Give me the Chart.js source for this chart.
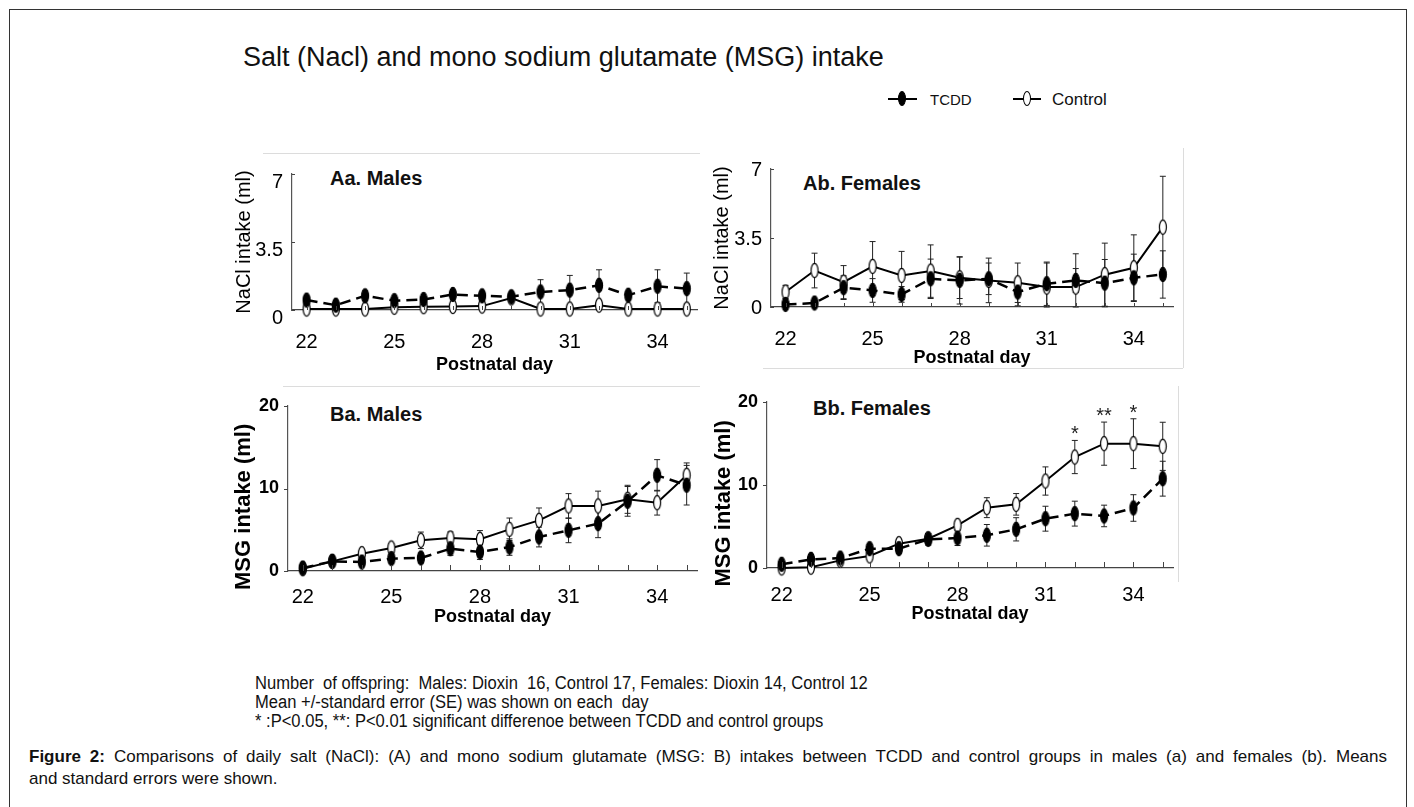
<!DOCTYPE html>
<html>
<head>
<meta charset="utf-8">
<script src="https://cdn.jsdelivr.net/npm/chart.js@4.4.0/dist/chart.umd.min.js"></script>
<style>
  html, body { margin: 0; padding: 0; background: #fff; }
  body { width: 1414px; height: 807px; position: relative; overflow: hidden; font-family: "Liberation Sans", Arial, sans-serif; color: #111; }
  .frame { position: absolute; left: 9px; top: 9px; width: 1398px; height: 830px; border: 1px solid #333; box-sizing: border-box; }
  .abs { position: absolute; white-space: pre; }
  .edge { position: absolute; background: #dcdcdc; }
  canvas { position: absolute; }
  .main-title { left: 243px; top: 44px; font-size: 27px; line-height: 27px; }
  .plabel { font-size: 20px; line-height: 20px; font-weight: bold; }
  .leg-line { position: absolute; height: 2px; background: #000; }
  .leg-dot { position: absolute; width: 6px; height: 13px; border: 1.3px solid #000; border-radius: 50%; }
  .notes { left: 255px; top: 674px; font-size: 18px; line-height: 19px; transform-origin: 0 0; }
  .caption { position: absolute; left: 29px; top: 746px; width: 1358px; font-size: 17px; line-height: 21.6px; }
  .caption .first { text-align: justify; text-align-last: justify; white-space: nowrap; }
</style>
</head>
<body>
<div class="frame"></div>
<div class="edge" style="left:263px; top:153px; width:437px; height:1px;"></div>
<div class="edge" style="left:763px; top:368px; width:420px; height:1px;"></div>
<div class="edge" style="left:1183px; top:148px; width:1px; height:220px;"></div>
<div class="edge" style="left:283px; top:386px; width:417px; height:1px;"></div>
<div class="edge" style="left:1178px; top:386px; width:1px; height:196px;"></div>

<div class="abs main-title">Salt (Nacl) and mono sodium glutamate (MSG) intake</div>

<div class="leg-line" style="left:888px; top:98px; width:29px;"></div>
<div class="leg-dot" style="left:898px; top:91px; background:#000;"></div>
<div class="abs" style="left:930px; top:92px; font-size:15px; line-height:15px;">TCDD</div>
<div class="leg-line" style="left:1013px; top:98px; width:28px; height:1.5px;"></div>
<div class="leg-dot" style="left:1023px; top:91px; background:#fff;"></div>
<div class="abs" style="left:1052px; top:91px; font-size:17px; line-height:17px;">Control</div>

<div class="abs plabel" style="left:330px; top:168px;">Aa. Males</div>
<div class="abs plabel" style="left:803px; top:173px;">Ab. Females</div>
<div class="abs plabel" style="left:330px; top:404px;">Ba. Males</div>
<div class="abs plabel" style="left:813px; top:398px;">Bb. Females</div>

<div class="abs notes" id="notes">Number  of offspring:  Males: Dioxin  16, Control 17, Females: Dioxin 14, Control 12
Mean +/-standard error (SE) was shown on each  day
* :P&lt;0.05, **: P&lt;0.01 significant differenoe between TCDD and control groups</div>

<div class="caption">
  <div class="first"><b>Figure 2:</b> Comparisons of daily salt (NaCl): (A) and mono sodium glutamate (MSG: B) intakes between TCDD and control groups in males (a) and females (b). Means</div>
  <div>and standard errors were shown.</div>
</div>

<script>
const days = [22, 23, 24, 25, 26, 27, 28, 29, 30, 31, 32, 33, 34, 35];
const xTickLabels = [22, 25, 28, 31, 34];
const naclTicks = [0, 3.5, 7];
const msgTicks = [0, 10, 20];

// Aa: NaCl, males
const aaTcdd   = [0.51, 0.25, 0.73, 0.48, 0.54, 0.80, 0.73, 0.68, 0.93, 1.02, 1.27, 0.76, 1.22, 1.10];
const aaTcddSe = [0.20, 0.15, 0.25, 0.15, 0.15, 0.20, 0.20, 0.15, 0.63, 0.76, 0.80, 0.20, 0.85, 0.80];
const aaCtrl   = [0.05, 0.05, 0.05, 0.14, 0.17, 0.18, 0.20, 0.62, 0.05, 0.05, 0.25, 0.05, 0.05, 0.05];
const aaCtrlSe = [0.05, 0.05, 0.05, 0.05, 0.05, 0.05, 0.05, 0.10, 0.05, 0.05, 0.10, 0.05, 0.05, 0.05];

// Ab: NaCl, females
const abTcdd   = [0.13, 0.20, 0.98, 0.84, 0.64, 1.43, 1.35, 1.43, 0.76, 1.18, 1.35, 1.21, 1.48, 1.65];
const abTcddSe = [0.10, 0.10, 0.60, 0.60, 0.40, 1.00, 1.20, 0.80, 0.70, 1.10, 0.60, 1.20, 1.20, 1.20];
const abCtrl   = [0.76, 1.85, 1.26, 2.06, 1.60, 1.82, 1.48, 1.35, 1.23, 1.01, 1.01, 1.64, 1.99, 4.05];
const abCtrlSe = [0.34, 0.88, 0.84, 1.26, 1.22, 1.33, 1.05, 1.13, 1.00, 1.22, 1.69, 1.60, 1.67, 2.58];

// Ba: MSG, males
const baTcdd   = [0.36, 1.17, 1.09, 1.50, 1.58, 2.70, 2.30, 2.90, 4.12, 4.93, 5.74, 8.44, 11.6, 10.4];
const baTcddSe = [0.30, 0.30, 0.40, 0.50, 0.60, 0.80, 0.90, 1.00, 1.20, 1.50, 1.70, 1.80, 1.90, 2.40];
const baCtrl   = [0.28, 1.17, 2.10, 2.79, 3.72, 4.00, 3.84, 5.05, 6.14, 7.88, 7.88, 8.69, 8.28, 11.6];
const baCtrlSe = [0.30, 0.30, 0.40, 0.50, 1.00, 0.73, 1.06, 1.37, 1.50, 1.50, 1.80, 1.70, 1.50, 1.50];

// Bb: MSG, females
const bbTcdd   = [0.45, 1.04, 1.20, 2.33, 2.33, 3.45, 3.61, 3.94, 4.66, 5.94, 6.55, 6.27, 7.23, 10.76];
const bbTcddSe = [0.30, 0.30, 0.40, 0.50, 0.50, 0.70, 0.90, 1.30, 1.40, 1.50, 1.50, 1.30, 1.60, 2.10];
const bbCtrl   = [0.00, 0.10, 0.92, 1.45, 2.93, 3.53, 5.14, 7.27, 7.67, 10.48, 13.37, 14.98, 14.98, 14.66];
const bbCtrlSe = [0.20, 0.20, 0.30, 0.40, 0.50, 0.60, 0.50, 1.20, 1.30, 1.70, 2.00, 2.60, 3.00, 2.90];
const bbStars  = ['', '', '', '', '', '', '', '', '', '', '*', '**', '*', ''];

Chart.defaults.font.family = "'Liberation Sans', Arial, sans-serif";
Chart.defaults.color = '#000';

function ellipseMarker(fill) {
  const c = document.createElement('canvas');
  c.width = 10;
  c.height = 17;
  const ctx = c.getContext('2d');
  ctx.beginPath();
  ctx.ellipse(5, 8.5, 3.5, 7.2, 0, 0, Math.PI * 2);
  ctx.fillStyle = fill;
  ctx.fill();
  ctx.lineWidth = 1.2;
  ctx.strokeStyle = '#000';
  ctx.stroke();
  return c;
}
const filledDot = ellipseMarker('#000');
const openDot = ellipseMarker('#fff');

const errorBars = {
  id: 'errorBars',
  beforeDatasetsDraw(chart) {
    const {ctx} = chart;
    const y = chart.scales.y;
    ctx.save();
    ctx.strokeStyle = '#222';
    ctx.lineWidth = 1;
    chart.data.datasets.forEach((ds, i) => {
      chart.getDatasetMeta(i).data.forEach((pt, j) => {
        const v = ds.data[j].y;
        const top = y.getPixelForValue(v + ds.se[j]);
        const bot = y.getPixelForValue(Math.max(0, v - ds.se[j]));
        ctx.beginPath();
        ctx.moveTo(pt.x, top); ctx.lineTo(pt.x, bot);
        ctx.moveTo(pt.x - 3, top); ctx.lineTo(pt.x + 3, top);
        ctx.moveTo(pt.x - 3, bot); ctx.lineTo(pt.x + 3, bot);
        ctx.stroke();
      });
    });
    ctx.restore();
  }
};

const tickMarks = {
  id: 'tickMarks',
  afterDraw(chart, args, opts) {
    const {ctx, chartArea: a, scales: {x, y}} = chart;
    ctx.save();
    ctx.strokeStyle = '#444';
    ctx.lineWidth = 1;
    ctx.beginPath();
    days.forEach(d => {
      const px = Math.round(x.getPixelForValue(d)) + 0.5;
      ctx.moveTo(px, a.bottom);
      ctx.lineTo(px, a.bottom - opts.xLen);
    });
    y.ticks.forEach(t => {
      const py = Math.round(y.getPixelForValue(t.value)) + 0.5;
      ctx.moveTo(a.left, py);
      ctx.lineTo(a.left + opts.yLen, py);
    });
    ctx.stroke();
    ctx.restore();
  }
};

const sigStars = {
  id: 'sigStars',
  afterDatasetsDraw(chart, args, opts) {
    if (!opts.marks) return;
    const {ctx} = chart;
    const ds = chart.data.datasets[1];
    const meta = chart.getDatasetMeta(1);
    ctx.save();
    ctx.font = "20px 'Liberation Sans', Arial, sans-serif";
    ctx.fillStyle = '#222';
    ctx.textAlign = 'center';
    ctx.textBaseline = 'alphabetic';
    opts.marks.forEach((m, j) => {
      if (!m) return;
      const top = chart.scales.y.getPixelForValue(ds.data[j].y + ds.se[j]);
      ctx.fillText(m, meta.data[j].x, top);
    });
    ctx.restore();
  }
};

// trailing no-break spaces push the bold MSG title a little down the axis, as in the original
const msgTitle = 'MSG intake (ml)' + '\u00a0'.repeat(6);

const panels = [
  {tcdd: aaTcdd, tcddSe: aaTcddSe, ctrl: aaCtrl, ctrlSe: aaCtrlSe, yTicks: naclTicks, yTitle: 'NaCl intake (ml)', bold: false,
   box: {l: 292, t: 173, r: 697, b: 310}, yw: 60, xh: 66, tickPad: 20, labelOffset: 8, yLen: 3, xLen: 4},
  {tcdd: abTcdd, tcddSe: abTcddSe, ctrl: abCtrl, ctrlSe: abCtrlSe, yTicks: naclTicks, yTitle: 'NaCl intake (ml)', bold: false,
   box: {l: 771, t: 168, r: 1173, b: 307}, yw: 61, xh: 62, tickPad: 20, labelOffset: 1, yLen: 3, xLen: 4},
  {tcdd: baTcdd, tcddSe: baTcddSe, ctrl: baCtrl, ctrlSe: baCtrlSe, yTicks: msgTicks, yTitle: msgTitle, bold: true,
   box: {l: 288, t: 406, r: 697, b: 571}, yw: 57, xh: 57, tickPad: 14, labelOffset: 0, yLen: -4, xLen: 6},
  {tcdd: bbTcdd, tcddSe: bbTcddSe, ctrl: bbCtrl, ctrlSe: bbCtrlSe, yTicks: msgTicks, yTitle: msgTitle, bold: true,
   box: {l: 767, t: 402, r: 1173, b: 568}, yw: 56, xh: 57, tickPad: 15, labelOffset: 0, yLen: -4, xLen: 6, stars: bbStars}
];

const padTop = 20, padRight = 12;

function toPoints(values) {
  return days.map((d, i) => ({x: d, y: values[i]}));
}

panels.forEach(p => {
  const cv = document.createElement('canvas');
  cv.width = p.yw + (p.box.r - p.box.l) + padRight;
  cv.height = padTop + (p.box.b - p.box.t) + p.xh;
  cv.style.left = (p.box.l - p.yw) + 'px';
  cv.style.top = (p.box.t - padTop) + 'px';
  document.body.appendChild(cv);

  new Chart(cv.getContext('2d'), {
    type: 'line',
    data: {
      datasets: [{
        label: 'TCDD',
        data: toPoints(p.tcdd),
        se: p.tcddSe,
        borderColor: '#000',
        borderWidth: 2.5,
        borderDash: [11, 6],
        pointStyle: filledDot,
        pointRadius: 4,
        clip: false
      }, {
        label: 'Control',
        data: toPoints(p.ctrl),
        se: p.ctrlSe,
        borderColor: '#000',
        borderWidth: 2,
        pointStyle: openDot,
        pointRadius: 4,
        clip: false
      }]
    },
    plugins: [errorBars, tickMarks, sigStars],
    options: {
      responsive: false,
      animation: false,
      events: [],
      layout: {padding: {top: padTop, right: padRight, left: 0, bottom: 0}, autoPadding: false},
      plugins: {
        legend: {display: false},
        tooltip: {enabled: false},
        tickMarks: {xLen: p.xLen, yLen: p.yLen},
        sigStars: {marks: p.stars}
      },
      scales: {
        x: {
          type: 'linear',
          min: 21.5,
          max: 35.35,
          afterBuildTicks: s => { s.ticks = days.map(v => ({value: v})); },
          afterFit: s => { s.height = p.xh; },
          grid: {display: false, drawTicks: false},
          border: {display: true, color: '#444', width: 1.3},
          ticks: {
            padding: p.tickPad,
            autoSkip: false,
            maxRotation: 0,
            font: {size: 20},
            callback: v => xTickLabels.includes(v) ? String(v) : ''
          },
          title: {display: true, text: 'Postnatal day', font: {size: 18, weight: 'bold'}, padding: 0}
        },
        y: {
          type: 'linear',
          min: 0,
          max: p.yTicks[p.yTicks.length - 1],
          afterBuildTicks: s => { s.ticks = p.yTicks.map(v => ({value: v})); },
          afterFit: s => { s.width = p.yw; },
          grid: {display: false, drawTicks: false},
          border: {display: true, color: '#555', width: 1.2},
          ticks: {
            padding: 9,
            labelOffset: p.labelOffset,
            font: {size: p.bold ? 18 : 20, weight: p.bold ? 'bold' : 'normal'}
          },
          title: {
            display: true,
            text: p.yTitle,
            font: {size: p.bold ? 22 : 20, weight: p.bold ? 'bold' : 'normal'},
            padding: 0
          }
        }
      }
    }
  });
});

// condense the footnote lines to the narrow face of the original
const notes = document.getElementById('notes');
const firstLineWidth = 613;
const probe = document.createElement('span');
probe.className = 'abs';
probe.style.font = "18px 'Liberation Sans', Arial, sans-serif";
probe.textContent = 'Number  of offspring:  Males: Dioxin  16, Control 17, Females: Dioxin 14, Control 12';
document.body.appendChild(probe);
notes.style.transform = 'scaleX(' + (firstLineWidth / probe.offsetWidth).toFixed(3) + ')';
probe.remove();
</script>
</body>
</html>
